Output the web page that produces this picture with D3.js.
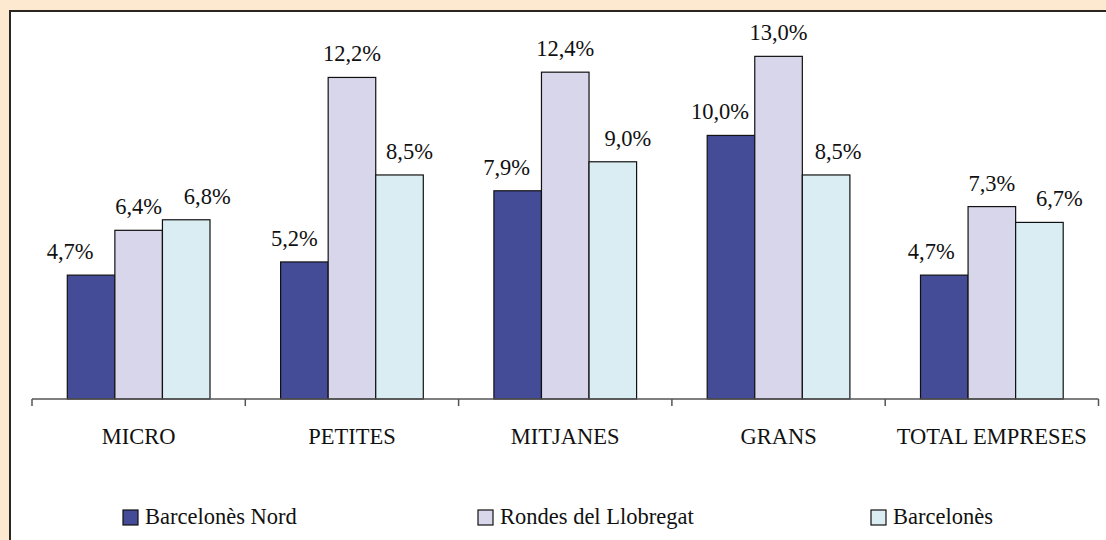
<!DOCTYPE html>
<html>
<head>
<meta charset="utf-8">
<script src="https://cdn.jsdelivr.net/npm/d3@7"></script>
<style>
    body { margin: 0; background: #fce9cf; }
    svg { display: block; }
</style>
</head>
<body>
<div id="chart"></div>
<script>
// categories and series
const categories = ['MICRO', 'PETITES', 'MITJANES', 'GRANS', 'TOTAL EMPRESES'];
const seriesNames = ['Barcelonès Nord', 'Rondes del Llobregat', 'Barcelonès'];
const barcelonesNord = [4.7, 5.2, 7.9, 10.0, 4.7];
const rondesLlobregat = [6.4, 12.2, 12.4, 13.0, 7.3];
const barcelones = [6.8, 8.5, 9.0, 8.5, 6.7];
const seriesValues = [barcelonesNord, rondesLlobregat, barcelones];

// label nudges (px) - labels were hand placed in the original
const labelNudge = [
    [-21, -10, -11, -11, -13],
    [0, 0, 0, 0, 0],
    [21, 10, 15, 12, 20]
];
const colors = ['#444c98', '#d8d6ea', '#daedf2'];
const serif = 'Liberation Serif';

const width = 1106;
const height = 540;
const margin = { top: 30, right: 8, bottom: 141, left: 32 };
const baseY = height - margin.bottom; // 399

const svg = d3.select('#chart').append('svg')
    .attr('width', width)
    .attr('height', height);

// white panel with dark left/top edge
svg.append('rect')
    .attr('x', 10)
    .attr('y', 11)
    .attr('width', width + 20)
    .attr('height', height + 20)
    .attr('fill', '#fff')
    .attr('stroke', '#2a2622')
    .attr('stroke-width', 2);

const x0 = d3.scaleBand()
    .domain(categories)
    .range([margin.left, 1098.5])
    .padding(0);

const bw = x0.bandwidth();
const x1 = d3.scaleBand()
    .domain(d3.range(seriesNames.length))
    .range([bw * 0.1655, bw * 0.8345])
    .padding(0);

const y = d3.scaleLinear()
    .domain([0, 14])
    .range([baseY, margin.top]);

const g = svg.append('g');

categories.forEach((cat, ci) => {
    seriesValues.forEach((vals, si) => {
        const bx = x0(cat) + x1(si);
        g.append('rect')
            .attr('x', bx)
            .attr('y', y(vals[ci]))
            .attr('width', x1.bandwidth())
            .attr('height', y(0) - y(vals[ci]))
            .attr('fill', colors[si])
            .attr('stroke', '#111')
            .attr('stroke-width', 1.2);
        g.append('text')
            .attr('x', bx + x1.bandwidth() / 2 + labelNudge[si][ci])
            .attr('y', y(vals[ci]) - 16)
            .attr('text-anchor', 'middle')
            .attr('font-family', serif)
            .attr('font-size', 22.5)
            .attr('fill', '#111')
            .text(d3.format('.1f')(vals[ci]).replace('.', ',') + '%');
    });
});

// category axis
const xAxis = svg.append('g')
    .attr('transform', `translate(0,${baseY})`);
xAxis.append('line')
    .attr('x1', margin.left)
    .attr('x2', 1098.5)
    .attr('stroke', '#555')
    .attr('stroke-width', 1.5);
const edges = categories.map(c => x0(c)).concat([x0(categories[categories.length - 1]) + bw]);
xAxis.selectAll('.tk')
    .data(edges)
    .join('line')
    .attr('x1', d => d)
    .attr('x2', d => d)
    .attr('y1', 0)
    .attr('y2', 7)
    .attr('stroke', '#555')
    .attr('stroke-width', 1.5);
xAxis.selectAll('.cat')
    .data(categories)
    .join('text')
    .attr('x', d => x0(d) + bw / 2)
    .attr('y', 45)
    .attr('text-anchor', 'middle')
    .attr('font-family', serif)
    .attr('font-size', 22.5)
    .attr('fill', '#111')
    .text(d => d);

// legend
const legendX = [123, 478, 871];
const legend = svg.append('g');
seriesNames.forEach((name, i) => {
    legend.append('rect')
        .attr('x', legendX[i])
        .attr('y', 510)
        .attr('width', 15)
        .attr('height', 15)
        .attr('fill', colors[i])
        .attr('stroke', '#111')
        .attr('stroke-width', 1.2);
    legend.append('text')
        .attr('x', legendX[i] + 22)
        .attr('y', 524)
        .attr('font-family', serif)
        .attr('font-size', 22.5)
        .attr('fill', '#111')
        .text(name);
});
</script>
</body>
</html>
